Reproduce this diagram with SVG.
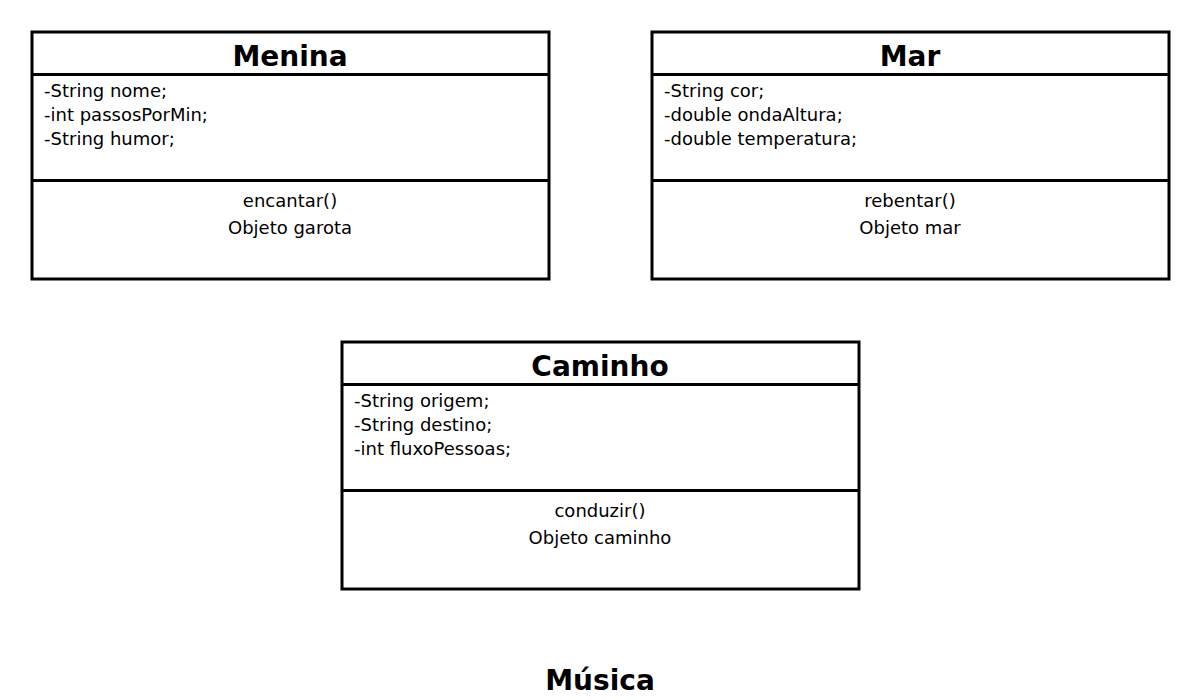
<svg xmlns="http://www.w3.org/2000/svg" width="1200" height="700" viewBox="0 0 1200 700">
<style>
.box{fill:#fff;stroke:#000;stroke-width:3}
.ln{stroke:#000;stroke-width:3}
.t{font-family:"DejaVu Sans",sans-serif;font-weight:bold;font-size:28px;text-anchor:middle}
.a{font-family:"DejaVu Sans",sans-serif;font-size:18px}
.m{font-family:"DejaVu Sans",sans-serif;font-size:18px;text-anchor:middle}
</style>
<rect width="1200" height="700" fill="#fff"/>
<g id="Menina">
<rect class="box" x="32" y="32" width="517" height="247"/>
<line class="ln" x1="32" y1="74.5" x2="549" y2="74.5"/>
<line class="ln" x1="32" y1="180.5" x2="549" y2="180.5"/>
<text class="t" x="290" y="66">Menina</text>
<text class="a" x="44" y="97">-String nome;</text>
<text class="a" x="44" y="121">-int passosPorMin;</text>
<text class="a" x="44" y="145">-String humor;</text>
<text class="m" x="290" y="207">encantar()</text>
<text class="m" x="290" y="234">Objeto garota</text>
</g>
<g id="Mar">
<rect class="box" x="652" y="32" width="517" height="247"/>
<line class="ln" x1="652" y1="74.5" x2="1169" y2="74.5"/>
<line class="ln" x1="652" y1="180.5" x2="1169" y2="180.5"/>
<text class="t" x="910" y="66">Mar</text>
<text class="a" x="664" y="97">-String cor;</text>
<text class="a" x="664" y="121">-double ondaAltura;</text>
<text class="a" x="664" y="145">-double temperatura;</text>
<text class="m" x="910" y="207">rebentar()</text>
<text class="m" x="910" y="234">Objeto mar</text>
</g>
<g id="Caminho">
<rect class="box" x="342" y="342" width="517" height="247"/>
<line class="ln" x1="342" y1="384.5" x2="859" y2="384.5"/>
<line class="ln" x1="342" y1="490.5" x2="859" y2="490.5"/>
<text class="t" x="600" y="376">Caminho</text>
<text class="a" x="354" y="407">-String origem;</text>
<text class="a" x="354" y="431">-String destino;</text>
<text class="a" x="354" y="455">-int fluxoPessoas;</text>
<text class="m" x="600" y="517">conduzir()</text>
<text class="m" x="600" y="544">Objeto caminho</text>
</g>
<g id="connectors"></g>
<g id="Musica">
<text class="t" x="600" y="690">Música</text>
</g>
</svg>
